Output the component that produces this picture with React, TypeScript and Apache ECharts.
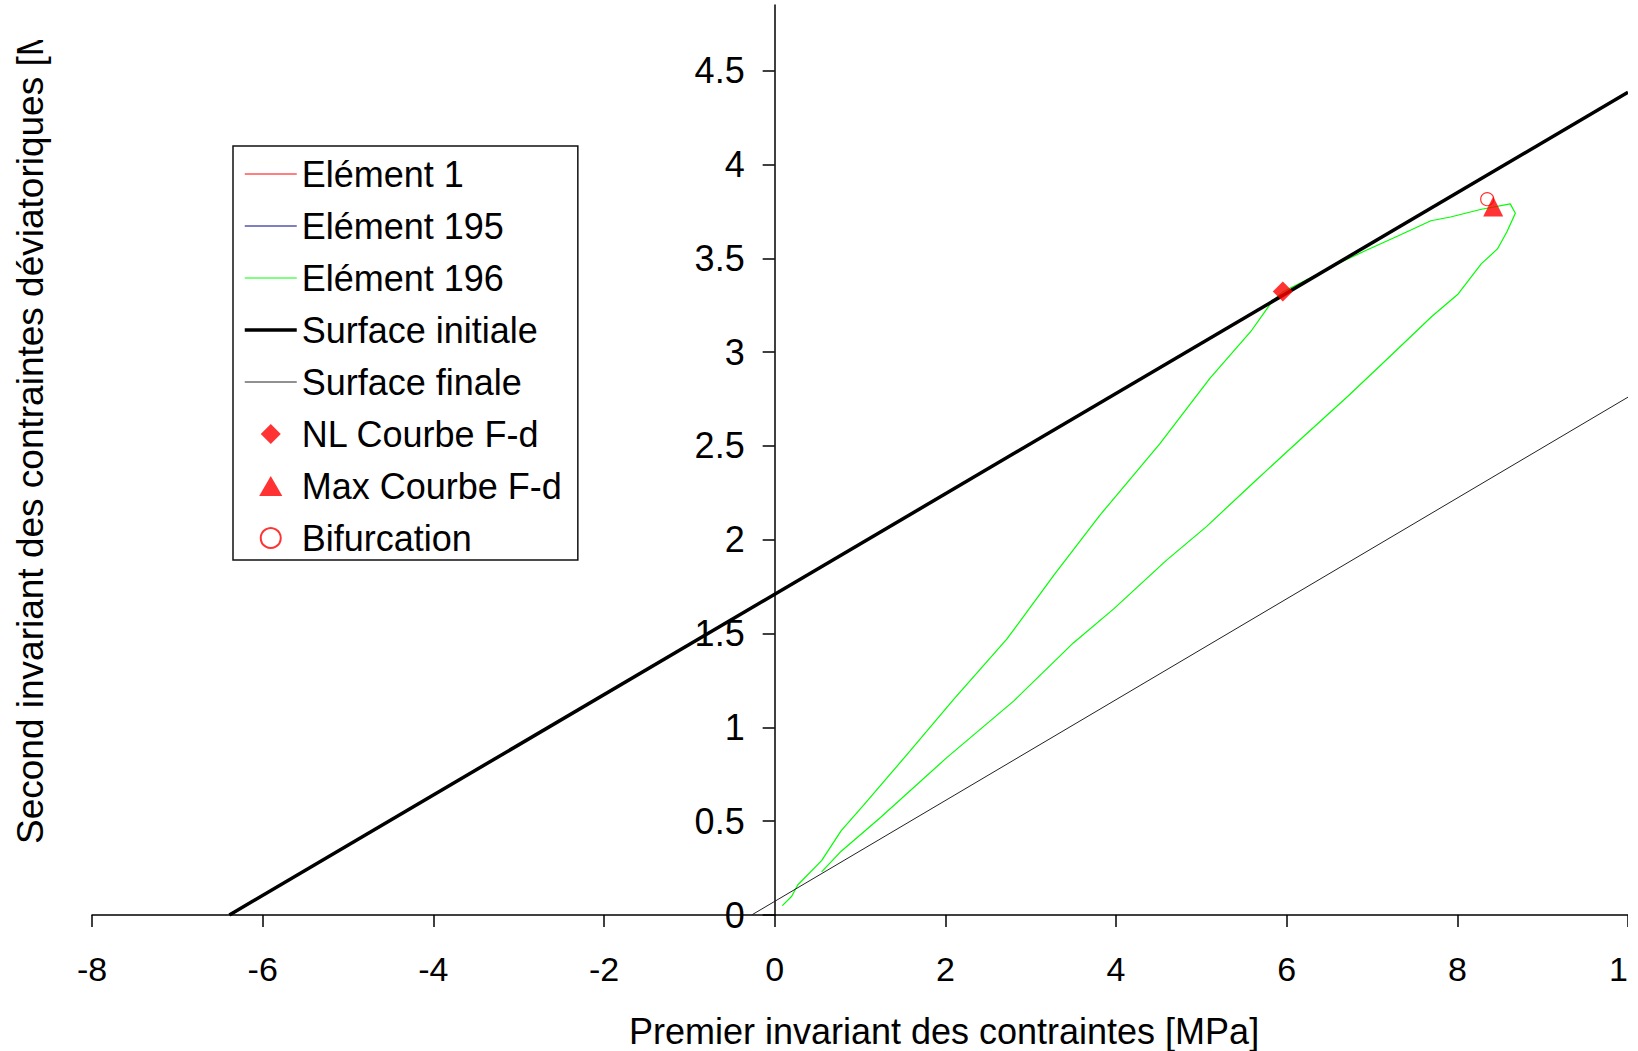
import React, { useEffect, useRef } from "react";
import * as echarts from "echarts";

const FONT = "'Liberation Sans', Arial, sans-serif";

const seriesNames = [
  "Elément 1",
  "Elément 195",
  "Elément 196",
  "Surface initiale",
  "Surface finale",
  "NL Courbe F-d",
  "Max Courbe F-d",
  "Bifurcation",
];

const element1: number[][] = [];
const element195: number[][] = [];
const element196: number[][] = [
  [0.09, 0.05], [0.2, 0.1], [0.27, 0.16], [0.55, 0.29], [0.78, 0.45], [1.05, 0.59],
  [1.56, 0.86], [2.1, 1.15], [2.72, 1.47], [3.27, 1.81], [3.81, 2.13], [4.51, 2.51],
  [5.1, 2.86], [5.58, 3.11], [5.83, 3.27], [5.95, 3.32], [6.34, 3.41], [6.64, 3.48],
  [6.92, 3.54], [7.31, 3.62], [7.69, 3.7], [7.92, 3.72], [8.27, 3.76], [8.62, 3.79],
  [8.68, 3.74], [8.58, 3.64], [8.47, 3.55], [8.28, 3.47], [8.01, 3.31], [7.7, 3.19],
  [7.24, 2.99], [6.73, 2.77], [6.15, 2.53], [5.6, 2.3], [5.06, 2.07], [4.59, 1.89],
  [3.97, 1.63], [3.5, 1.45], [2.8, 1.14], [2.02, 0.84], [1.24, 0.52], [0.78, 0.34],
  [0.55, 0.23],
];
const surfaceInitiale: number[][] = [[-6.39, 0], [10, 4.385]];
const surfaceFinale: number[][] = [[-0.27, 0], [10, 2.76]];
const nlCourbe: number[][] = [[5.955, 3.323]];
const maxCourbe: number[][] = [[8.42, 3.776]];
const bifurcation: number[][] = [[8.35, 3.815]];

const yTickValues = [0, 0.5, 1, 1.5, 2, 2.5, 3, 3.5, 4, 4.5];
const xMin = -8;
const xMax = 10;
const xStep = 2;
const yMin = 0;
const yMax = 4.85;

const xAxisName = "Premier invariant des contraintes [MPa]";
const yAxisName = "Second invariant des contraintes déviatoriques [MPa]";

const CHART_W = 1628;
const CHART_H = 1051;
const GRID_LEFT = 92;
const GRID_RIGHT = 0;

export default function App() {
  const ref = useRef<HTMLDivElement>(null);

  useEffect(() => {
    if (!ref.current) return;
    const chart = echarts.init(ref.current, null, { renderer: "svg" });
    const axisLineStyle = { color: "#000", width: 1.5 };
    const gridW = CHART_W - GRID_LEFT - GRID_RIGHT;
    const yAxisOffset = -gridW * ((0 - xMin) / (xMax - xMin));
    const lineLegend = (name: string, width: number) => ({
      name,
      itemStyle: { opacity: 0 },
      lineStyle: { width },
    });
    chart.setOption({
      animation: false,
      backgroundColor: "#fff",
      grid: {
        left: GRID_LEFT,
        right: GRID_RIGHT,
        top: 5,
        bottom: 136,
        containLabel: false,
        outerBoundsMode: "none",
      },
      xAxis: {
        type: "value",
        min: xMin,
        max: xMax,
        interval: xStep,
        axisLine: { onZero: true, lineStyle: axisLineStyle },
        axisTick: { show: true, length: 12, lineStyle: axisLineStyle },
        axisLabel: {
          fontSize: 34,
          color: "#000",
          fontFamily: FONT,
          margin: 37,
        },
        splitLine: { show: false },
      },
      yAxis: {
        type: "value",
        min: yMin,
        max: yMax,
        offset: yAxisOffset,
        axisLine: { show: true, onZero: false, lineStyle: axisLineStyle },
        axisTick: {
          show: true,
          length: 12,
          customValues: yTickValues,
          lineStyle: axisLineStyle,
        },
        axisLabel: {
          customValues: yTickValues,
          fontSize: 36,
          color: "#000",
          fontFamily: FONT,
          margin: 30,
          formatter: (v: number) => String(v),
        },
        splitLine: { show: false },
      },
      legend: {
        data: [
          lineLegend(seriesNames[0], 1),
          lineLegend(seriesNames[1], 1),
          lineLegend(seriesNames[2], 1),
          lineLegend(seriesNames[3], 3.5),
          lineLegend(seriesNames[4], 1),
          { name: seriesNames[5], icon: "path://M10,0 L20,10 L10,20 L0,10 Z" },
          { name: seriesNames[6], icon: "path://M11,0 L22,19 L0,19 Z" },
          { name: seriesNames[7] },
        ],
        orient: "vertical",
        left: 233,
        top: 146,
        itemWidth: 52,
        itemHeight: 20,
        itemGap: 12,
        padding: [8, 16, 2, 10],
        borderColor: "#111",
        borderWidth: 1.5,
        selectedMode: false,
        symbolKeepAspect: true,
        textStyle: { fontSize: 36, color: "#000", fontFamily: FONT, lineHeight: 40 },
      },
      graphic: [
        {
          type: "text",
          x: 944,
          y: 1031,
          style: {
            text: xAxisName,
            fontSize: 36,
            fontFamily: FONT,
            fill: "#000",
            align: "center",
            verticalAlign: "middle",
          },
        },
        {
          type: "text",
          x: 30,
          y: 844,
          rotation: Math.PI / 2,
          style: {
            text: yAxisName,
            fontSize: 37,
            fontFamily: FONT,
            fill: "#000",
            align: "left",
            verticalAlign: "middle",
          },
        },
        {
          type: "rect",
          z: 100,
          shape: { x: 0, y: 0, width: 70, height: 40 },
          style: { fill: "#fff" },
        },
      ],
      series: [
        {
          name: seriesNames[0],
          type: "line",
          data: element1,
          symbol: "none",
          color: "#ff0000",
          lineStyle: { color: "#ff0000", width: 1 },
        },
        {
          name: seriesNames[1],
          type: "line",
          data: element195,
          symbol: "none",
          color: "#000080",
          lineStyle: { color: "#000080", width: 1 },
        },
        {
          name: seriesNames[2],
          type: "line",
          data: element196,
          symbol: "none",
          color: "#00ff00",
          lineStyle: { color: "#00ff00", width: 1.2 },
        },
        {
          name: seriesNames[3],
          type: "line",
          data: surfaceInitiale,
          symbol: "none",
          color: "#000",
          lineStyle: { color: "#000", width: 3.5 },
        },
        {
          name: seriesNames[4],
          type: "line",
          data: surfaceFinale,
          symbol: "none",
          color: "#222",
          lineStyle: { color: "#222", width: 1 },
        },
        {
          name: seriesNames[5],
          type: "scatter",
          data: nlCourbe,
          symbol: "diamond",
          symbolSize: 20,
          itemStyle: { color: "#ff0000" },
          z: 3,
        },
        {
          name: seriesNames[6],
          type: "scatter",
          data: maxCourbe,
          symbol: "triangle",
          symbolSize: 20,
          itemStyle: { color: "#ff0000" },
          z: 4,
        },
        {
          name: seriesNames[7],
          type: "scatter",
          data: bifurcation,
          symbol: "circle",
          symbolSize: 13,
          itemStyle: { color: "rgba(255,255,255,0)", borderColor: "#ff0000", borderWidth: 1.2 },
          z: 3,
        },
      ],
    });
    return () => chart.dispose();
  }, []);

  return (
    <div
      style={{
        position: "fixed",
        left: 0,
        top: 0,
        width: CHART_W,
        height: CHART_H,
        overflow: "hidden",
        background: "#fff",
      }}
    >
      <div ref={ref} style={{ width: CHART_W, height: CHART_H }} />
    </div>
  );
}
